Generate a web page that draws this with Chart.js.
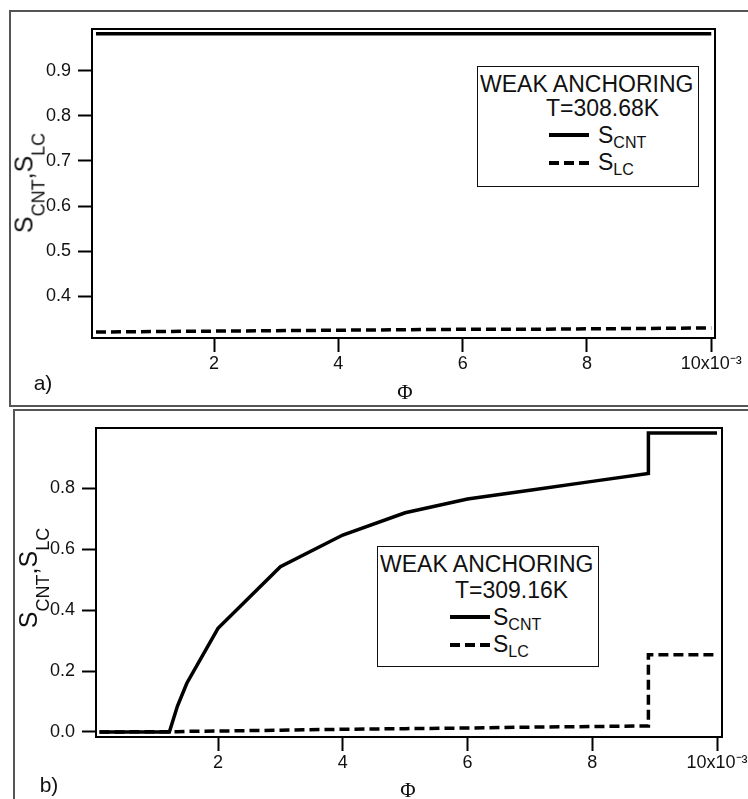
<!DOCTYPE html>
<html>
<head>
<meta charset="utf-8">
<script src="https://cdn.jsdelivr.net/npm/chart.js@4.4.1/dist/chart.umd.min.js"></script>
<style>
html, body { margin: 0; padding: 0; background: #fff; }
body { width: 748px; height: 799px; position: relative; overflow: hidden;
       font-family: "Liberation Sans", Arial, sans-serif; color: #111; }
.frame { position: absolute; border: 2px solid #555; box-sizing: border-box; }
canvas { position: absolute; left: 0; }
.txt { position: absolute; white-space: nowrap; line-height: 1; }
.center { transform: translate(-50%, -50%); }
.ytitle { position: absolute; white-space: nowrap; line-height: 1; font-size: 25px;
          transform: translate(-50%, -50%) rotate(-90deg); }
.ytitle .sub { font-size: 18px; position: relative; top: 12px; }
.phi { font-family: "Liberation Serif", "DejaVu Serif", serif; font-size: 21px; }
.label { font-size: 21px; }
.legend { position: absolute; width: 222px; height: 121px; border: 1.5px solid #111;
          box-sizing: border-box; background: #fff; }
.legend .sub { font-size: 16px; position: relative; top: 5px; }
.smp { position: absolute; width: 40px; height: 4px; background: #000; }
.smp.dash { background: repeating-linear-gradient(to right, #000 0 10px, transparent 10px 15px); }
</style>
</head>
<body>
<div class="frame" style="left:9px;top:10px;width:800px;height:397px"></div>
<div class="frame" style="left:13px;top:409px;width:800px;height:500px"></div>

<canvas id="chartA" width="748" height="406" style="top:0"></canvas>
<canvas id="chartB" width="748" height="393" style="top:406px"></canvas>

<script>
// shared x axis
const xTicks = [2, 4, 6, 8, 10];
const xTickLabels = ['2', '4', '6', '8', '10x10\u207B\u00B3'];
const legendTitle = 'WEAK ANCHORING';

// a) T = 308.68K
const tempA = 'T=308.68K';
const phiA = [0.1, 1, 2, 3, 4, 5, 6, 7, 8, 9, 10];
const sCntA = [0.983, 0.983, 0.983, 0.983, 0.983, 0.983, 0.983, 0.983, 0.983, 0.983, 0.983];
const sLcA = [0.320, 0.321, 0.322, 0.323, 0.324, 0.325, 0.326, 0.326, 0.327, 0.328, 0.329];
const yTicksA = [0.4, 0.5, 0.6, 0.7, 0.8, 0.9];
const yTickLabelsA = ['0.4', '0.5', '0.6', '0.7', '0.8', '0.9'];

// b) T = 309.16K
const tempB = 'T=309.16K';
const phiB = [0.1, 1.22, 1.35, 1.5, 2, 3, 4, 5, 6, 7, 8, 8.9, 8.9, 10];
const sCntB = [0, 0, 0.085, 0.16, 0.34, 0.542, 0.646, 0.719, 0.764, 0.793, 0.822, 0.848, 0.981, 0.981];
const sLcB = [0, 0.001, 0.001, 0.002, 0.003, 0.006, 0.009, 0.011, 0.013, 0.016, 0.018, 0.02, 0.253, 0.253];
const yTicksB = [0, 0.2, 0.4, 0.6, 0.8];
const yTickLabelsB = ['0.0', '0.2', '0.4', '0.6', '0.8'];

const tickFont = { family: '"Liberation Sans", Arial, sans-serif', size: 18 };

// box around the plot area
const plotFrame = {
    id: 'plotFrame',
    afterDraw(chart) {
        const a = chart.chartArea, ctx = chart.ctx;
        ctx.save();
        ctx.strokeStyle = '#000';
        ctx.lineWidth = 2;
        ctx.strokeRect(a.left, a.top, a.right - a.left, a.bottom - a.top);
        ctx.restore();
    }
};

function makePanel(id, phi, sCnt, sLc, xRange, yRange, yTicks, yTickLabels, box) {
    return new Chart(document.getElementById(id), {
        type: 'line',
        data: {
            datasets: [
                { data: phi.map((x, i) => ({ x, y: sCnt[i] })), borderColor: '#000', borderWidth: 3.5,
                  pointRadius: 0, tension: 0, borderCapStyle: 'butt', fill: false },
                { data: phi.map((x, i) => ({ x, y: sLc[i] })), borderColor: '#000', borderWidth: 3.5,
                  borderDash: [10, 5], pointRadius: 0, tension: 0, borderCapStyle: 'butt', fill: false }
            ]
        },
        options: {
            responsive: false,
            animation: false,
            events: [],
            layout: { padding: { top: box.top, right: box.right, left: 0, bottom: 0 } },
            plugins: { legend: { display: false }, tooltip: { enabled: false } },
            scales: {
                x: {
                    type: 'linear', min: xRange[0], max: xRange[1],
                    afterBuildTicks: s => { s.ticks = xTicks.map(v => ({ value: v })); },
                    afterFit: s => { s.height = box.xh; s.paddingLeft = 0; s.paddingRight = 0; },
                    grid: { drawOnChartArea: false, drawTicks: true, tickLength: 14, tickColor: '#000', tickWidth: 2 },
                    border: { display: false },
                    ticks: { font: tickFont, color: '#111', padding: 1, maxRotation: 0, autoSkip: false,
                             callback: v => xTickLabels[xTicks.indexOf(v)] }
                },
                y: {
                    type: 'linear', min: yRange[0], max: yRange[1],
                    afterBuildTicks: s => { s.ticks = yTicks.map(v => ({ value: v })); },
                    afterFit: s => { s.width = box.yw; s.paddingTop = 0; s.paddingBottom = 0; },
                    grid: { drawOnChartArea: false, drawTicks: true, tickLength: 14, tickColor: '#000', tickWidth: 2 },
                    border: { display: false },
                    ticks: { font: tickFont, color: '#111', padding: 7, autoSkip: false,
                             callback: v => yTickLabels[yTicks.indexOf(v)] }
                }
            }
        },
        plugins: [plotFrame]
    });
}

makePanel('chartA', phiA, sCntA, sLcA, [0.036, 10.06], [0.3067, 0.9933], yTicksA, yTickLabelsA,
          { top: 29, right: 33, xh: 68, yw: 92 });
makePanel('chartB', phiB, sCntB, sLcB, [0.044, 10.08], [-0.0164, 0.997], yTicksB, yTickLabelsB,
          { top: 22, right: 26, xh: 62, yw: 96 });

// text around the plots
function addText(html, cls, left, top) {
    const d = document.createElement('div');
    d.className = cls;
    d.style.left = left + 'px';
    d.style.top = top + 'px';
    d.innerHTML = html;
    document.body.appendChild(d);
    return d;
}

const yTitle = 'S<span class="sub">CNT</span>,S<span class="sub">LC</span>';
addText(yTitle, 'ytitle', 24, 182.5);
addText(yTitle, 'ytitle', 28, 577.5);
addText('\u03A6', 'txt center phi', 405, 392);
addText('\u03A6', 'txt center phi', 408, 790);
addText('a)', 'txt center label', 43, 382);
addText('b)', 'txt center label', 49, 784);

function addLegend(left, top, temp, o) {
    const box = document.createElement('div');
    box.className = 'legend';
    box.style.left = left + 'px';
    box.style.top = top + 'px';
    box.innerHTML =
        `<div class="txt" style="left:2px;top:6px;font-size:23px">${legendTitle}</div>` +
        `<div class="txt" style="left:${o.temp}px;top:${30 + o.dy}px;font-size:23px">${temp}</div>` +
        `<div class="smp" style="left:${o.smp}px;top:${66 + o.dy}px"></div>` +
        `<div class="txt" style="left:${o.s}px;top:${57 + o.dy}px;font-size:23px">S<span class="sub">CNT</span></div>` +
        `<div class="smp dash" style="left:${o.smp}px;top:${94 + o.dy}px"></div>` +
        `<div class="txt" style="left:${o.s}px;top:${84 + o.dy}px;font-size:23px">S<span class="sub">LC</span></div>`;
    document.body.appendChild(box);
}

addLegend(477, 66, tempA, { temp: 68, smp: 71, s: 120, dy: 0 });
addLegend(377, 546, tempB, { temp: 77, smp: 72, s: 115, dy: 2 });
</script>
</body>
</html>
